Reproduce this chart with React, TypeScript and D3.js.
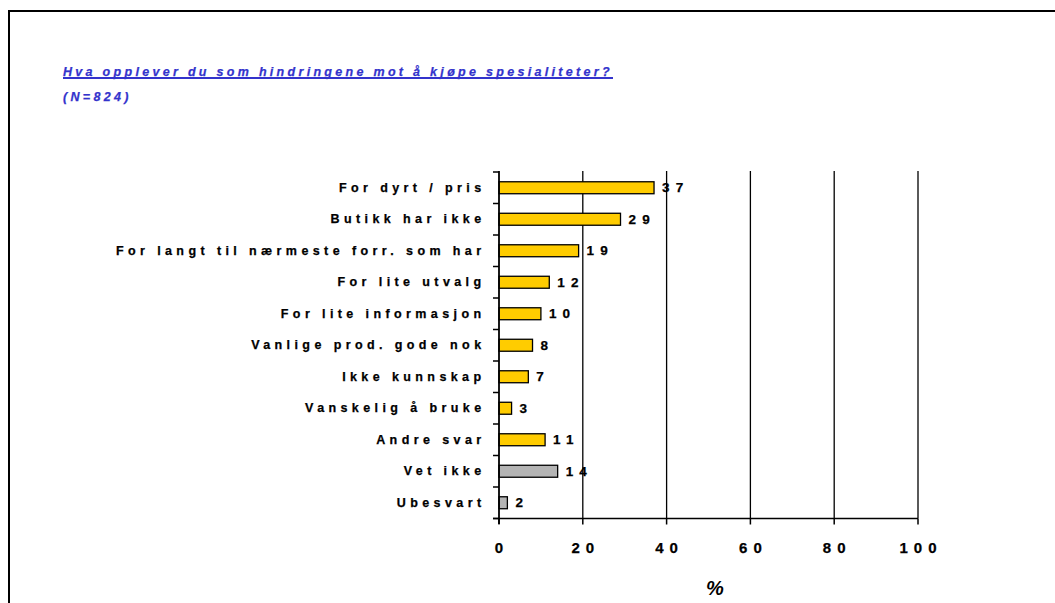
import React from "react";
import * as d3 from "d3";

const categories = [
  "For dyrt / pris",
  "Butikk har ikke",
  "For langt til nærmeste forr. som har",
  "For lite utvalg",
  "For lite informasjon",
  "Vanlige prod. gode nok",
  "Ikke kunnskap",
  "Vanskelig å bruke",
  "Andre svar",
  "Vet ikke",
  "Ubesvart",
];
const values = [37, 29, 19, 12, 10, 8, 7, 3, 11, 14, 2];
const grey = [false, false, false, false, false, false, false, false, false, true, true];
const xTicks = [0, 20, 40, 60, 80, 100];
const title = "Hva opplever du som hindringene mot å kjøpe spesialiteter?";
const subtitle = "(N=824)";
const axisTitle = "%";

export default function App() {
  const W = 1055;
  const H = 603;
  const x = d3.scaleLinear().domain([0, 100]).range([499, 918]);
  const y = d3.scaleBand<number>().domain(d3.range(categories.length)).range([172, 518.5]).paddingInner(0).paddingOuter(0);
  const bw = y.bandwidth();
  const barH = bw * 0.38;
  const font = "Arial, 'Liberation Sans', Helvetica, sans-serif";
  const bandEdges = d3.range(categories.length + 1).map((i) => 172 + i * bw);

  return (
    <svg width={W} height={H} style={{ position: "absolute", left: 0, top: 0 }}>
      <rect x={0} y={0} width={W} height={H} fill="#fff" />
      {/* frame */}
      <line x1={9} y1={11} x2={W} y2={11} stroke="#000" strokeWidth={2} />
      <line x1={9} y1={10} x2={9} y2={H} stroke="#000" strokeWidth={2} />

      {/* title */}
      <text x={63} y={75.5} fill="#3333cc" stroke="#3333cc" strokeWidth={0.25} fontFamily={font} fontSize={12.5} fontWeight="bold" fontStyle="italic" letterSpacing={3.3}>
        {title}
      </text>
      <line x1={63} y1={78} x2={613} y2={78} stroke="#3333cc" strokeWidth={2} />
      <text x={63} y={101} fill="#3333cc" stroke="#3333cc" strokeWidth={0.25} fontFamily={font} fontSize={12.5} fontWeight="bold" fontStyle="italic" letterSpacing={3.3}>
        {subtitle}
      </text>

      {/* gridlines */}
      {xTicks.slice(1).map((t) => (
        <line key={"g" + t} x1={x(t)} x2={x(t)} y1={171} y2={518.5} stroke="#000" strokeWidth={1.3} />
      ))}

      {/* bars */}
      {values.map((v, i) => {
        const cy = (y(i) as number) + bw / 2;
        return (
          <g key={"b" + i}>
            <rect
              x={x(0)}
              y={cy - barH / 2}
              width={x(v) - x(0)}
              height={barH}
              fill={grey[i] ? "#b4b4b4" : "#ffcc00"}
              stroke="#000"
              strokeWidth={1.3}
            />
            <text x={x(v) + 8} y={cy + 4.5} fontFamily={font} fontSize={13.5} fontWeight="bold" stroke="#000" strokeWidth={0.25} letterSpacing={6.2} fill="#000">
              {v}
            </text>
            <text x={485.5} y={cy + 4} textAnchor="end" fontFamily={font} fontSize={12.5} fontWeight="bold" stroke="#000" strokeWidth={0.25} letterSpacing={4.4} fill="#000">
              {categories[i]}
            </text>
          </g>
        );
      })}

      {/* y axis */}
      <line x1={499} x2={499} y1={171} y2={524} stroke="#000" strokeWidth={1.8} />
      {bandEdges.map((e, i) => (
        <line key={"yt" + i} x1={493} x2={499} y1={e} y2={e} stroke="#000" strokeWidth={1.5} />
      ))}

      {/* x axis */}
      <line x1={493} x2={918} y1={518.5} y2={518.5} stroke="#000" strokeWidth={1.5} />
      {xTicks.map((t) => (
        <g key={"xt" + t}>
          <line x1={x(t)} x2={x(t)} y1={518.5} y2={524.5} stroke="#000" strokeWidth={1.5} />
          <text x={x(t) + 3} y={553} textAnchor="middle" fontFamily={font} fontSize={15} fontWeight="bold" stroke="#000" strokeWidth={0.25} letterSpacing={6} fill="#000">
            {t}
          </text>
        </g>
      ))}
      <text x={715} y={595} textAnchor="middle" fontFamily={font} fontSize={20} fontWeight="bold" fontStyle="italic" fill="#000">
        {axisTitle}
      </text>
    </svg>
  );
}
